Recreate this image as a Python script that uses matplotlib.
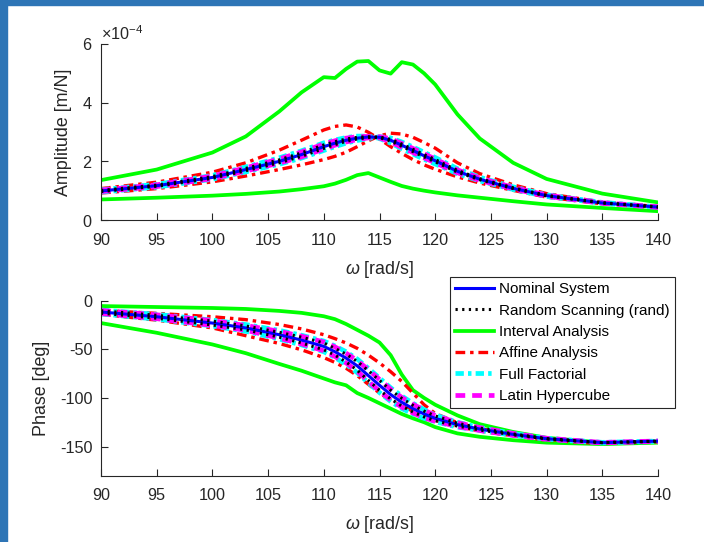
import matplotlib
matplotlib.use("Agg")
import matplotlib.pyplot as plt
from matplotlib.patches import Rectangle
from matplotlib.ticker import ScalarFormatter
import numpy as np

plt.rcParams["font.family"] = ["Liberation Sans", "DejaVu Sans"]
plt.rcParams["mathtext.fontset"] = "custom"
plt.rcParams["mathtext.rm"] = "Liberation Sans"
plt.rcParams["mathtext.it"] = "Liberation Sans:italic"
plt.rcParams["axes.unicode_minus"] = False
plt.rcParams["lines.scale_dashes"] = False

# Frequency grid [rad/s]
omega = [90, 95, 100, 103, 106, 108, 110, 111, 112, 113, 114, 115, 116,
         117, 118, 119, 120, 122, 124, 127, 130, 135, 140]

# Amplitude [x1e-4 m/N]
amp_nominal = [0.99, 1.17, 1.45, 1.72, 2.00, 2.23, 2.50, 2.62, 2.72, 2.79, 2.83, 2.82, 2.72,
               2.55, 2.37, 2.19, 2.02, 1.66, 1.39, 1.08, 0.83, 0.58, 0.44]
amp_rand_a = [1.01, 1.19, 1.48, 1.76, 2.05, 2.29, 2.56, 2.67, 2.76, 2.82, 2.84, 2.81, 2.69,
              2.51, 2.33, 2.15, 1.98, 1.63, 1.37, 1.07, 0.82, 0.58, 0.44]
amp_rand_b = [0.97, 1.15, 1.42, 1.68, 1.95, 2.17, 2.44, 2.57, 2.68, 2.76, 2.81, 2.83, 2.75,
              2.59, 2.41, 2.23, 2.06, 1.69, 1.41, 1.10, 0.84, 0.59, 0.45]
amp_interval_hi = [1.36, 1.72, 2.30, 2.85, 3.70, 4.35, 4.87, 4.84, 5.15, 5.40, 5.42, 5.10, 4.99,
                   5.38, 5.30, 5.00, 4.62, 3.60, 2.78, 1.95, 1.40, 0.90, 0.60]
amp_interval_lo = [0.70, 0.76, 0.83, 0.89, 0.97, 1.05, 1.15, 1.24, 1.37, 1.53, 1.60, 1.45, 1.30,
                   1.16, 1.07, 1.00, 0.94, 0.84, 0.76, 0.64, 0.53, 0.41, 0.30]
amp_affine_a = [1.07, 1.29, 1.63, 1.95, 2.38, 2.72, 3.07, 3.19, 3.24, 3.17, 2.99, 2.76, 2.50,
                2.27, 2.06, 1.88, 1.73, 1.47, 1.26, 1.01, 0.78, 0.55, 0.42]
amp_affine_b = [0.92, 1.07, 1.30, 1.50, 1.72, 1.88, 2.06, 2.17, 2.31, 2.50, 2.70, 2.87, 2.96,
                2.93, 2.82, 2.64, 2.45, 1.95, 1.58, 1.20, 0.90, 0.61, 0.46]
amp_full_a = [1.03, 1.22, 1.52, 1.81, 2.12, 2.36, 2.63, 2.73, 2.81, 2.86, 2.86, 2.78, 2.62,
              2.43, 2.25, 2.07, 1.91, 1.58, 1.33, 1.04, 0.80, 0.57, 0.43]
amp_full_b = [0.95, 1.12, 1.39, 1.64, 1.90, 2.11, 2.37, 2.50, 2.62, 2.71, 2.78, 2.84, 2.80,
              2.66, 2.49, 2.31, 2.13, 1.75, 1.46, 1.13, 0.86, 0.60, 0.45]
amp_latin_a = [1.02, 1.20, 1.50, 1.78, 2.08, 2.32, 2.59, 2.70, 2.79, 2.84, 2.85, 2.80, 2.66,
               2.48, 2.30, 2.12, 1.95, 1.61, 1.35, 1.06, 0.81, 0.57, 0.43]
amp_latin_b = [0.97, 1.14, 1.41, 1.67, 1.94, 2.15, 2.42, 2.55, 2.66, 2.74, 2.80, 2.84, 2.77,
               2.61, 2.44, 2.26, 2.08, 1.71, 1.43, 1.11, 0.85, 0.59, 0.45]

# Phase [deg]
ph_nominal = [-11.6, -16.5, -23, -28, -35, -40.5, -47, -52.5, -59, -67, -77, -87, -96.5,
              -104.5, -111, -116.5, -121, -127.5, -132, -137.5, -142, -146, -144.5]
ph_rand_a = [-10.3, -15, -21, -26, -32.5, -37.5, -43.5, -49, -55, -62.5, -72, -82, -92,
             -100.5, -107.5, -113.5, -118.5, -126, -131, -137, -141.8, -145.9, -144.4]
ph_rand_b = [-12.9, -18, -25, -30, -37.5, -43.5, -50.5, -56, -63, -71.5, -82, -92, -101,
             -108.5, -114.5, -119.5, -123.5, -129, -133, -138, -142.2, -146.1, -144.6]
ph_interval_hi = [-5.5, -6.5, -7.5, -8.5, -10.5, -12.5, -16, -19, -24, -30, -36, -43, -56,
                  -76, -92, -100, -107, -118, -127, -135, -141, -146, -145]
ph_interval_lo = [-23, -33, -45, -54, -65, -72, -80, -84, -87, -95, -100, -105.5, -111,
                  -116.5, -121, -125, -130, -136.5, -140, -143.5, -146, -147.5, -146]
ph_affine_a = [-14, -20, -28, -36, -44, -50.5, -58.5, -63.5, -69.5, -77, -86, -95, -102.5,
               -108.5, -113.5, -118.5, -123, -129.5, -134, -139, -143.5, -147, -145]
ph_affine_b = [-10, -13, -16.5, -19.5, -24.5, -29, -35, -39, -43.5, -49, -56, -64, -73,
               -83, -95, -107, -116, -125.5, -131.5, -137.5, -142.5, -146.5, -145]
ph_full_a = [-9.6, -14, -20, -24.5, -30.5, -35.5, -41.5, -46.5, -52.5, -60, -69.5, -79.5, -89.5,
             -98, -105.5, -112, -117.5, -125, -130.5, -136.5, -141.5, -145.7, -144.3]
ph_full_b = [-13.6, -19, -26, -31.5, -39.5, -45.5, -52.5, -58.5, -65.5, -74, -84.5, -94.5, -103.5,
             -111, -116.5, -121, -124.5, -130, -133.5, -138.5, -142.5, -146.3, -144.7]
ph_latin_a = [-10, -14.5, -20.5, -25.5, -31.5, -36.5, -42.5, -47.5, -54, -61.5, -71, -81, -91,
              -99.5, -106.5, -112.5, -118, -125.5, -130.5, -136.5, -141.5, -145.8, -144.3]
ph_latin_b = [-13.2, -18.5, -25.5, -30.5, -38.5, -44.5, -51.5, -57.5, -64, -72.5, -83, -93, -102,
              -109.5, -115.5, -120.5, -124, -129.5, -133.5, -138.5, -142.5, -146.2, -144.7]

labels = ["Nominal System", "Random Scanning (rand)", "Interval Analysis",
          "Affine Analysis", "Full Factorial", "Latin Hypercube"]

AXC = (0.15, 0.15, 0.15)
styles = {
    "Interval Analysis": dict(color=(0, 1, 0), lw=2.7, ls="-", zorder=2.0),
    "Affine Analysis": dict(color=(1, 0, 0), lw=2.4, ls=(0, (7, 3.5, 2.5, 3.5)), zorder=2.1),
    "Full Factorial": dict(color=(0, 1, 1), lw=3.4, ls=(0, (6, 3, 2.5, 3)), zorder=2.2),
    "Latin Hypercube": dict(color=(1, 0, 1), lw=3.4, ls=(0, (7, 5)), zorder=2.3),
    "Nominal System": dict(color=(0, 0, 1), lw=2.2, ls="-", zorder=2.4),
    "Random Scanning (rand)": dict(color=(0, 0, 0), lw=2.2, ls=(0, (1.6, 3.2)), zorder=2.5),
}

w = np.array(omega)
scale = 1e-4
amp_sets = {
    "Nominal System": [amp_nominal],
    "Random Scanning (rand)": [amp_rand_a, amp_rand_b],
    "Interval Analysis": [amp_interval_hi, amp_interval_lo],
    "Affine Analysis": [amp_affine_a, amp_affine_b],
    "Full Factorial": [amp_full_a, amp_full_b],
    "Latin Hypercube": [amp_latin_a, amp_latin_b],
}
ph_sets = {
    "Nominal System": [ph_nominal],
    "Random Scanning (rand)": [ph_rand_a, ph_rand_b],
    "Interval Analysis": [ph_interval_hi, ph_interval_lo],
    "Affine Analysis": [ph_affine_a, ph_affine_b],
    "Full Factorial": [ph_full_a, ph_full_b],
    "Latin Hypercube": [ph_latin_a, ph_latin_b],
}

W, H = 704, 542
fig = plt.figure(figsize=(W / 100, H / 100), dpi=100)
fig.patch.set_facecolor("white")

ax1 = fig.add_axes([101 / W, 1 - 220 / H, (658 - 101) / W, (220 - 44) / H])
ax2 = fig.add_axes([101 / W, 1 - 475.7 / H, (658 - 101) / W, (475.7 - 300.7) / H])

handles = {}
for name in labels:
    st = styles[name]
    for curve in amp_sets[name]:
        ln, = ax1.plot(w, np.array(curve) * scale, color=st["color"], lw=st["lw"],
                       linestyle=st["ls"], zorder=st["zorder"])
        handles.setdefault(name, ln)
    for curve in ph_sets[name]:
        ax2.plot(w, curve, color=st["color"], lw=st["lw"], linestyle=st["ls"],
                 zorder=st["zorder"])

for ax in (ax1, ax2):
    ax.set_xlim(90, 140)
    ax.set_xticks(np.arange(90, 141, 5))
    for s in ("top", "right"):
        ax.spines[s].set_visible(False)
    for s in ("left", "bottom"):
        ax.spines[s].set_color(AXC)
        ax.spines[s].set_linewidth(0.8)
    ax.tick_params(direction="in", length=5, width=0.8, color=AXC, labelcolor=AXC,
                   labelsize=11.7)
    ax.tick_params(axis="x", pad=9)
    ax.tick_params(axis="y", pad=6)
    ax.set_xlabel(r"$\omega$ [rad/s]", fontsize=12.9, color=AXC, labelpad=8)

ax1.set_ylim(0, 6e-4)
ax1.set_yticks([0, 2e-4, 4e-4, 6e-4])
fmt = ScalarFormatter(useMathText=True)
fmt.set_powerlimits((0, 0))
ax1.yaxis.set_major_formatter(fmt)
ax1.yaxis.get_offset_text().set_fontsize(11.7)
ax1.yaxis.get_offset_text().set_color(AXC)
ax1.set_ylabel("Amplitude [m/N]", fontsize=12.9, color=AXC, labelpad=7)

ax2.set_ylim(-180, 0)
ax2.set_yticks([-150, -100, -50, 0])
ax2.set_ylabel("Phase [deg]", fontsize=12.9, color=AXC, labelpad=7)

leg = fig.legend([handles[n] for n in labels], labels, loc="upper left",
                 bbox_to_anchor=(450 / W, 1 - 277 / H), bbox_transform=fig.transFigure,
                 borderaxespad=0, fontsize=11, handlelength=2.5, handletextpad=0.33,
                 labelspacing=0.48, borderpad=0.35, fancybox=False, framealpha=1)
leg.get_frame().set_edgecolor(AXC)
leg.get_frame().set_linewidth(0.8)

# Blue window frame along the top and left edges
fig.patches.append(Rectangle((0, 0), 7 / W, 1, transform=fig.transFigure,
                             color="#2E75B6", zorder=10))
fig.patches.append(Rectangle((0, 1 - 5 / H), 1, 5 / H, transform=fig.transFigure,
                             color="#2E75B6", zorder=10))

fig.savefig("out.png", dpi=100, facecolor="white")
